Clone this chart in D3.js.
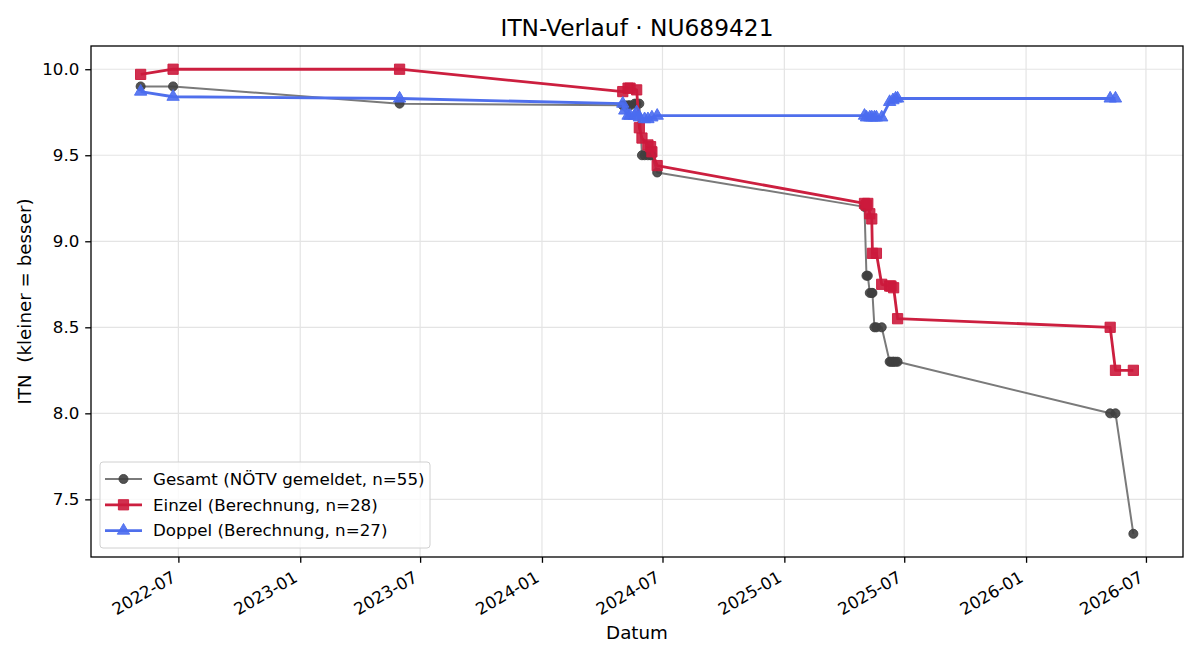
<!DOCTYPE html>
<html>
<head>
<meta charset="utf-8">
<script src="https://cdn.jsdelivr.net/npm/d3@7"></script>
<style>
  body { margin: 0; background: #fff; }
  text { font-family: "DejaVu Sans", sans-serif; white-space: pre; }
</style>
</head>
<body>
<div id="canvas"></div>
<script>
// Gesamt (NÖTV gemeldet)
const gesamtDates = ["2022-05-05", "2022-06-23", "2023-05-31", "2024-05-02", "2024-05-05", "2024-05-10",
    "2024-05-13", "2024-05-20", "2024-05-23", "2024-05-27", "2024-05-31", "2024-06-04", "2024-06-09",
    "2024-06-13", "2024-06-15", "2024-06-23", "2025-05-02", "2025-05-05", "2025-05-07", "2025-05-10",
    "2025-05-13", "2025-05-14", "2025-05-17", "2025-05-20", "2025-05-28", "2025-06-09", "2025-06-11",
    "2025-06-14", "2025-06-15", "2025-06-18", "2025-06-21", "2026-05-08", "2026-05-16", "2026-06-12"];
const gesamtValues = [9.90, 9.90, 9.80, 9.79, 9.79, 9.79,
    9.79, 9.80, 9.80, 9.80, 9.50, 9.50, 9.50,
    9.50, 9.50, 9.40, 9.20, 8.80, 8.80, 8.70,
    8.70, 8.70, 8.50, 8.50, 8.50, 8.30, 8.30,
    8.30, 8.30, 8.30, 8.30, 8.00, 8.00, 7.30];

// Einzel (Berechnung)
const einzelDates = ["2022-05-05", "2022-06-23", "2023-05-31", "2024-05-02", "2024-05-10", "2024-05-13",
    "2024-05-23", "2024-05-27", "2024-05-31", "2024-06-09", "2024-06-13", "2024-06-15", "2024-06-23",
    "2025-05-02", "2025-05-05", "2025-05-07", "2025-05-10", "2025-05-13", "2025-05-14", "2025-05-20",
    "2025-05-28", "2025-06-09", "2025-06-11", "2025-06-15", "2025-06-21", "2026-05-08", "2026-05-16",
    "2026-06-12"];
const einzelValues = [9.97, 10.0, 10.0, 9.87, 9.89, 9.89,
    9.88, 9.66, 9.60, 9.56, 9.55, 9.52, 9.44,
    9.22, 9.21, 9.22, 9.16, 9.13, 8.93, 8.93,
    8.75, 8.74, 8.74, 8.73, 8.55, 8.50, 8.25,
    8.25];

// Doppel (Berechnung)
const doppelDates = ["2022-05-05", "2022-06-23", "2023-05-31", "2024-05-02", "2024-05-05", "2024-05-10",
    "2024-05-13", "2024-05-20", "2024-05-23", "2024-05-27", "2024-06-04", "2024-06-09", "2024-06-15",
    "2024-06-23", "2025-05-02", "2025-05-05", "2025-05-10", "2025-05-13", "2025-05-17", "2025-05-20",
    "2025-05-28", "2025-06-09", "2025-06-14", "2025-06-18", "2025-06-21", "2026-05-08", "2026-05-16"];
const doppelValues = [9.87, 9.84, 9.83, 9.80, 9.76, 9.73,
    9.73, 9.73, 9.75, 9.72, 9.71, 9.71, 9.72,
    9.73, 9.73, 9.72, 9.72, 9.72, 9.72, 9.72,
    9.72, 9.81, 9.82, 9.83, 9.83, 9.83, 9.83];

const yTicks = [7.5, 8.0, 8.5, 9.0, 9.5, 10.0];

const parse = d3.timeParse("%Y-%m-%d");
const series = [
    { name: "Gesamt (NÖTV gemeldet, n=55)", dates: gesamtDates, values: gesamtValues,
      line: "#7a7a7a", lw: 2, fill: "#3f3f3f", symbol: d3.symbolCircle, size: 64, op: 0.9 },
    { name: "Einzel (Berechnung, n=28)", dates: einzelDates, values: einzelValues,
      line: "#cc1f3f", lw: 2.8, fill: "#cc1a3c", symbol: d3.symbolSquare, size: 105, op: 0.9 },
    { name: "Doppel (Berechnung, n=27)", dates: doppelDates, values: doppelValues,
      line: "#4f6fec", lw: 2.8, fill: "#4a6cf0", symbol: d3.symbolTriangle, size: 66, op: 0.9 }
];
series.forEach(s => s.points = s.dates.map((d, i) => ({ date: parse(d), value: s.values[i] })));

const W = 1200, H = 660;
const margin = { top: 46, right: 17, bottom: 103, left: 91 },
    width = W - margin.left - margin.right,
    height = H - margin.top - margin.bottom;
const tickLen = 5.8, tickPad = 5.8;

const svg = d3.select("#canvas")
    .append("svg")
    .attr("width", W)
    .attr("height", H);

const g = svg.append("g")
    .attr("transform", `translate(${margin.left},${margin.top})`);

const allPts = series.flatMap(s => s.points);
const xExt = d3.extent(allPts, d => d.date);
const xPad = (xExt[1] - xExt[0]) * 0.05;
const x = d3.scaleTime()
    .domain([new Date(+xExt[0] - xPad), new Date(+xExt[1] + xPad)])
    .range([0, width]);

const yExt = d3.extent(allPts, d => d.value);
const yPad = (yExt[1] - yExt[0]) * 0.05;
const y = d3.scaleLinear()
    .domain([yExt[0] - yPad, yExt[1] + yPad])
    .range([height, 0]);

const xTicks = x.ticks(d3.timeMonth.every(6)).filter(d => d.getMonth() % 6 === 0);

// grid
g.append("g").selectAll("line").data(xTicks).join("line")
    .attr("x1", d => x(d)).attr("x2", d => x(d))
    .attr("y1", 0).attr("y2", height)
    .attr("stroke", "#e4e4e4").attr("stroke-width", 1.2);
g.append("g").selectAll("line").data(yTicks).join("line")
    .attr("x1", 0).attr("x2", width)
    .attr("y1", d => y(d)).attr("y2", d => y(d))
    .attr("stroke", "#e4e4e4").attr("stroke-width", 1.2);

// axes
const xAxis = g.append("g")
    .attr("transform", `translate(0,${height})`)
    .call(d3.axisBottom(x).tickValues(xTicks).tickFormat(d3.timeFormat("%Y-%m")).tickSizeOuter(0).tickSize(tickLen));
xAxis.selectAll("text")
    .style("font-size", "16.7px")
    .attr("text-anchor", "end")
    .attr("x", 0).attr("y", 0).attr("dy", 0)
    .attr("transform", `translate(-2,${tickLen + tickPad + 12}) rotate(-30)`);

const yAxis = g.append("g")
    .call(d3.axisLeft(y).tickValues(yTicks).tickFormat(d3.format(".1f")).tickSizeOuter(0).tickSize(tickLen));
yAxis.selectAll("text").style("font-size", "16.7px").attr("x", -(tickLen + tickPad));

[xAxis, yAxis].forEach(a => {
    a.select(".domain").remove();
    a.selectAll("line").attr("stroke", "#000").attr("stroke-width", 1.3);
    a.selectAll("text").attr("fill", "#000");
});

g.append("rect")
    .attr("width", width).attr("height", height)
    .attr("fill", "none").attr("stroke", "#000").attr("stroke-width", 1.3);

// series
series.forEach(s => {
    g.append("path")
        .datum(s.points)
        .attr("fill", "none")
        .attr("stroke", s.line)
        .attr("stroke-width", s.lw)
        .attr("stroke-linejoin", "round")
        .attr("d", d3.line().x(d => x(d.date)).y(d => y(d.value)));

    g.append("g")
        .selectAll("path")
        .data(s.points)
        .join("path")
        .attr("transform", d => `translate(${x(d.date)},${y(d.value)})`)
        .attr("d", d3.symbol().type(s.symbol).size(s.size))
        .attr("fill", s.fill)
        .attr("fill-opacity", s.op)
        .attr("stroke", s.fill)
        .attr("stroke-opacity", s.op)
        .attr("stroke-width", 1);
});

// labels
svg.append("text")
    .attr("x", margin.left + width / 2).attr("y", 36)
    .attr("text-anchor", "middle")
    .style("font-size", "23.3px")
    .text("ITN-Verlauf · NU689421");

svg.append("text")
    .attr("x", margin.left + width / 2).attr("y", 639)
    .attr("text-anchor", "middle")
    .style("font-size", "18.3px")
    .text("Datum");

svg.append("text")
    .attr("transform", `translate(31,${margin.top + height / 2}) rotate(-90)`)
    .attr("text-anchor", "middle")
    .style("font-size", "18.3px")
    .text("ITN  (kleiner = besser)");

// legend
const legend = svg.append("g").attr("transform", "translate(100,462)");
legend.append("rect")
    .attr("width", 330).attr("height", 86)
    .attr("rx", 3)
    .attr("fill", "#fff").attr("fill-opacity", 0.8)
    .attr("stroke", "#d0d0d0");

series.forEach((s, i) => {
    const row = legend.append("g").attr("transform", `translate(0,${17 + i * 25.8})`);
    row.append("line")
        .attr("x1", 5).attr("x2", 42)
        .attr("stroke", s.line).attr("stroke-width", s.lw);
    row.append("path")
        .attr("transform", "translate(23.5,0)")
        .attr("d", d3.symbol().type(s.symbol).size(s.size))
        .attr("fill", s.fill).attr("fill-opacity", s.op)
        .attr("stroke", s.fill).attr("stroke-opacity", s.op);
    row.append("text")
        .attr("x", 53).attr("y", 0)
        .attr("dy", "0.35em")
        .style("font-size", "16.7px")
        .text(s.name);
});
</script>
</body>
</html>
